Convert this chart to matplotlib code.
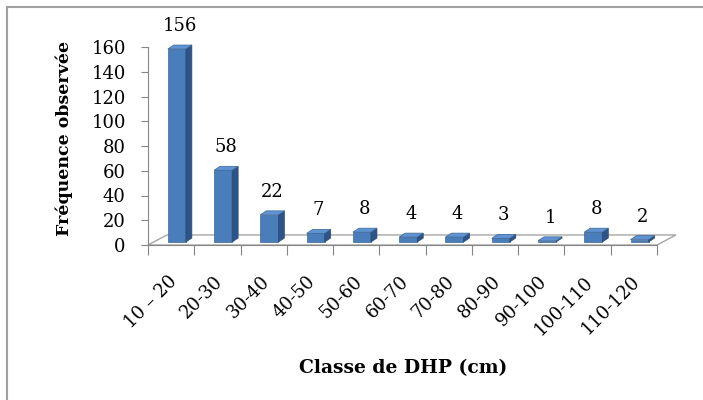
import matplotlib.pyplot as plt
from matplotlib.lines import Line2D
from matplotlib.transforms import offset_copy

classes = ["10 – 20", "20-30", "30-40", "40-50", "50-60", "60-70",
           "70-80", "80-90", "90-100", "100-110", "110-120"]
frequences = [156, 58, 22, 7, 8, 4, 4, 3, 1, 8, 2]

plt.rcParams['font.family'] = ['DejaVu Serif']

fig = plt.figure(figsize=(7.03, 4.0), dpi=100)
ax = fig.add_axes([148/703, 155/400, 509/703, 198/400])
ax.set_xlim(0, len(classes))
ax.set_ylim(0, 160)

# pseudo 3D depth (data units)
floor_dx, floor_dy = 0.41, 8.1
front_dx, front_dy = 0.123, 2.4
bar_dx, bar_dy = 0.13, 3.2
w = 0.39

# floor
ax.fill([0, len(classes), len(classes) + floor_dx, floor_dx],
        [0, 0, floor_dy, floor_dy], facecolor="white", edgecolor="#A6A6A6",
        lw=1, clip_on=False, zorder=1)

for i, v in enumerate(frequences):
    x0 = i + 0.5 - w/2 + front_dx
    y0 = front_dy
    ax.bar(x0, v, width=w, bottom=y0, align='edge', color="#4A7EBB",
           edgecolor="#3B6696", lw=0.5, zorder=3, clip_on=False)
    # side face
    ax.fill([x0 + w, x0 + w + bar_dx, x0 + w + bar_dx, x0 + w],
            [y0, y0 + bar_dy, y0 + v + bar_dy, y0 + v],
            facecolor="#2E5386", edgecolor="#2A4A78", lw=0.5, zorder=3, clip_on=False)
    # top face
    ax.fill([x0, x0 + w, x0 + w + bar_dx, x0 + bar_dx],
            [y0 + v, y0 + v, y0 + v + bar_dy, y0 + v + bar_dy],
            facecolor="#5F93D3", edgecolor="#3B6696", lw=0.5, zorder=3, clip_on=False)
    ax.annotate(str(v), (x0 + w/2 + bar_dx/2, y0 + v), xytext=(0, 10),
                textcoords="offset points", ha="center", va="bottom", fontsize=13)

# x tick labels
lab_tr = offset_copy(ax.transData, fig=fig, x=3, y=-34, units='dots')
for i, lab in enumerate(classes):
    ax.text(i + 0.5, 0, lab, transform=lab_tr, rotation=45, ha="right", va="center",
            rotation_mode="anchor", fontsize=13)

for s in ["top", "right"]:
    ax.spines[s].set_visible(False)
ax.spines["left"].set_color("#868686")
ax.spines["bottom"].set_color("#868686")
ax.set_yticks(range(0, 161, 20))
ax.tick_params(axis="y", colors="#868686", length=5, pad=11, labelsize=13, labelcolor="black")
ax.set_xticks(range(0, len(classes) + 1))
ax.set_xticklabels([])
ax.tick_params(axis="x", colors="#868686", length=7)
ax.patch.set_alpha(0)

fig.text(64/703, 1 - 138/400, "Fréquence observée", rotation=90, ha="center", va="center",
         fontsize=12.5, fontweight="bold")
fig.text(403/703, 1 - 368/400, "Classe de DHP (cm)", ha="center", va="center",
         fontsize=13.5, fontweight="bold")

# chart frame
fig.add_artist(Line2D([7/703, 7/703], [0, 1 - 7/400], color="#A0A0A0", lw=1.5))
fig.add_artist(Line2D([7/703, 1], [1 - 7/400, 1 - 7/400], color="#A0A0A0", lw=1.5))

fig.savefig("out.png", dpi=100)
